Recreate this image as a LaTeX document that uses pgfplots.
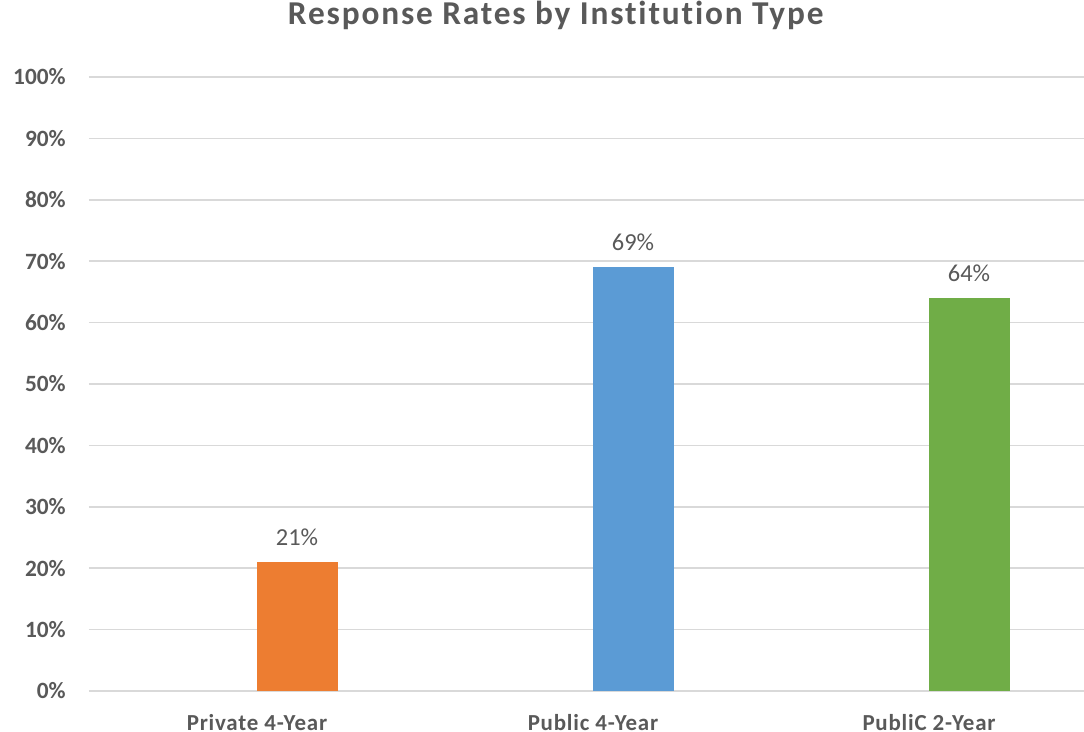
\documentclass[border=0pt]{standalone}
\usepackage{pgfplots}
\pgfplotsset{compat=1.18}
\usepackage{fontspec}
\setmainfont{Carlito}[Ligatures=NoCommon]
\definecolor{txt}{HTML}{595959}
\definecolor{gridc}{HTML}{D9D9D9}
\definecolor{c1}{HTML}{ED7D31}
\definecolor{c2}{HTML}{5B9BD5}
\definecolor{c3}{HTML}{70AD47}
\begin{document}
\begin{tikzpicture}
\begin{axis}[
  scale only axis,
  width=746.25pt, height=460.5pt,
  xmin=-0.5, xmax=2.4613,
  ymin=0, ymax=100,
  enlargelimits=false,
  axis line style={draw=none},
  major tick length=0pt,
  ymajorgrids,
  grid style={gridc, line width=1.3pt},
  ytick={0,10,...,100},
  yticklabels={0\%,10\%,20\%,30\%,40\%,50\%,60\%,70\%,80\%,90\%,100\%},
  xtick={0,1,2},
  xticklabels={Private 4-Year,Public 4-Year,PubliC 2-Year},
  yticklabel style={font=\fontsize{17.5pt}{20pt}\selectfont\bfseries, text=txt,
    anchor=east, inner sep=0pt, xshift=-17.25pt},
  xticklabel style={font=\fontsize{17.2pt}{20pt}\selectfont\bfseries\addfontfeature{LetterSpace=3.5}, text=txt,
    anchor=base, inner sep=0pt, yshift=-29.5pt},
  title={Response Rates by Institution Type},
  title style={at={(0.469,1)}, anchor=base, yshift=33.2pt, inner sep=0pt,
    font=\fontsize{25pt}{29pt}\selectfont\bfseries\addfontfeature{LetterSpace=5.5}, text=txt},
  /pgf/number format/assume math mode=true,
  ybar, bar width=60.75pt, bar shift=30pt,
  nodes near coords={\pgfmathprintnumber{\pgfplotspointmeta}\%},
  nodes near coords style={font=\fontsize{18.3pt}{21pt}\selectfont, text=txt,
    inner sep=0pt, anchor=base, yshift=12.75pt},
  clip=false,
]
\addplot[fill=c1, draw=none] coordinates {(0,21)};
\addplot[fill=c2, draw=none] coordinates {(1,69)};
\addplot[fill=c3, draw=none] coordinates {(2,64)};
\end{axis}
\pgfresetboundingbox
\path[use as bounding box]
  ([shift={(-66.75pt,-30pt)}]current axis.south west)
  rectangle ([shift={(0pt,57.75pt)}]current axis.north east);
\end{tikzpicture}
\end{document}
